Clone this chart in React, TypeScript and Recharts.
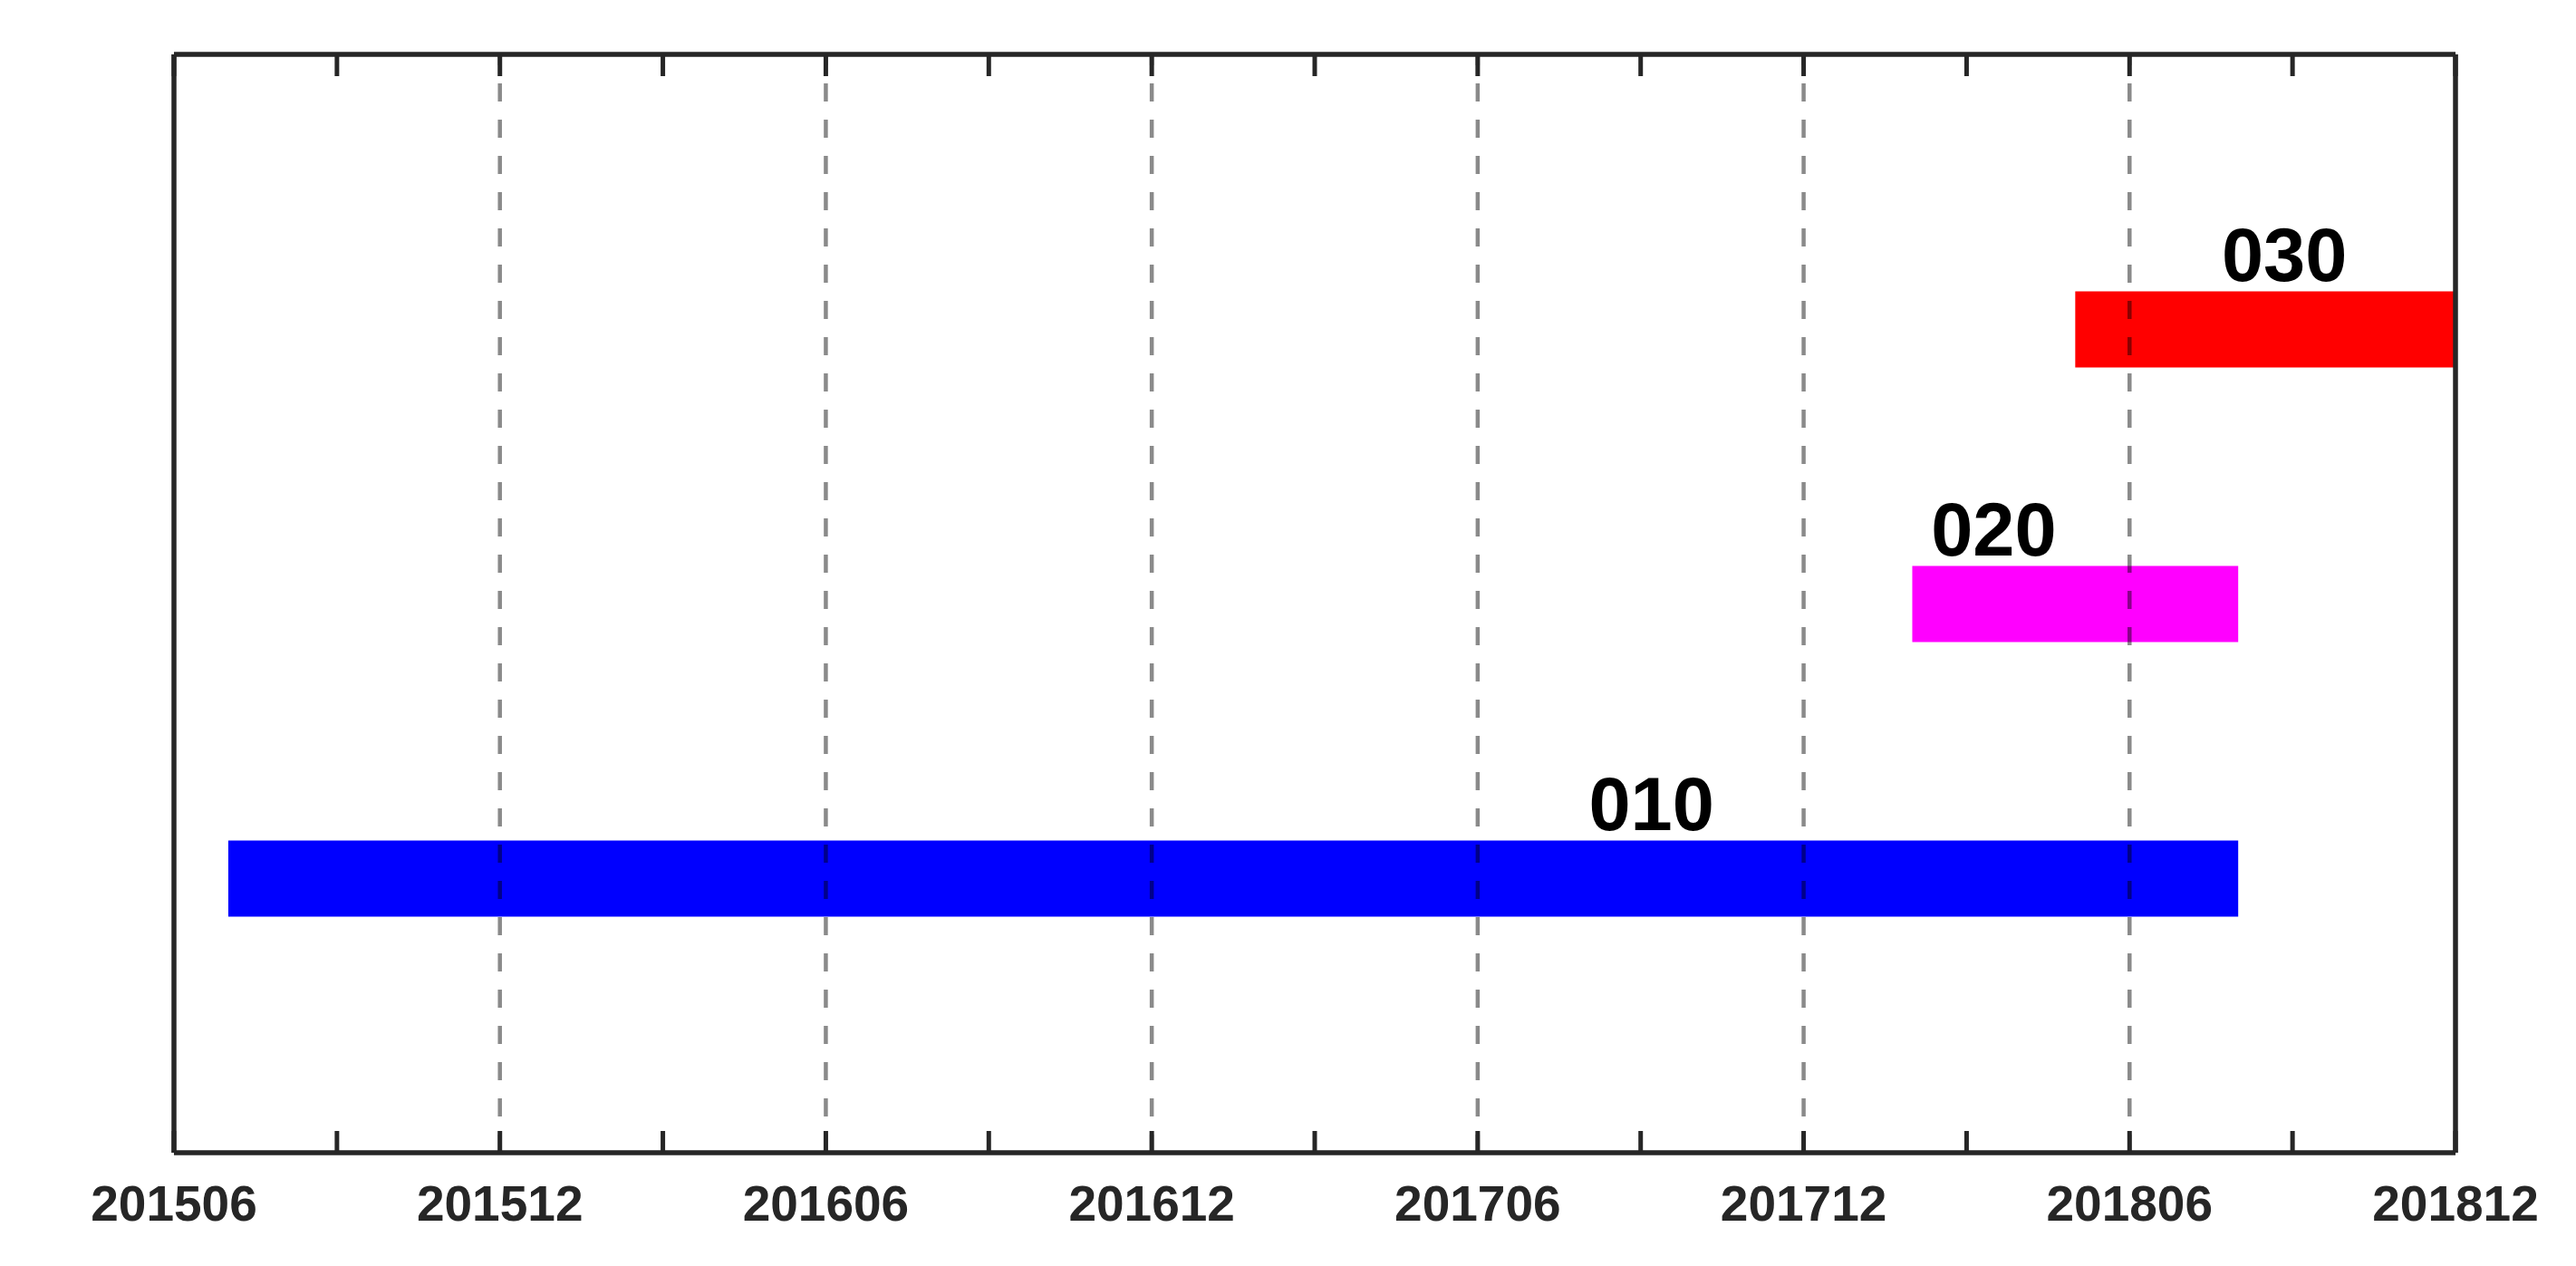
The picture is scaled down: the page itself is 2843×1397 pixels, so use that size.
import React from 'react';
import { ComposedChart, Bar, Cell, XAxis, YAxis, ReferenceLine, ReferenceDot } from 'recharts';

// ---- data ----
const categories = ['010', '020', '030'];
const rowPositions = [1, 2, 3];
const startMonths = [201507, 201802, 201805];
const endMonths = [201808, 201808, 201812];
const barColors = ['#0000FF', '#FF00FF', '#FF0000'];
// label centre, in months after the axis start (201506)
const labelMonths = [27.2, 33.5, 38.85];

const axisStart = 201506;
const majorTickMonths = [0, 6, 12, 18, 24, 30, 36, 42];
const majorTickLabels = ['201506', '201512', '201606', '201612', '201706', '201712', '201806', '201812'];
const minorTickMonths = [3, 9, 15, 21, 27, 33, 39];
const gridMonths = [6, 12, 18, 24, 30, 36];

const toIndex = (yyyymm: number) => {
  const y = Math.floor(yyyymm / 100);
  const m = yyyymm % 100;
  const y0 = Math.floor(axisStart / 100);
  const m0 = axisStart % 100;
  return (y - y0) * 12 + (m - m0);
};

const allTicks = [...majorTickMonths, ...minorTickMonths].sort((a, b) => a - b);

const data = categories.map((c, i) => ({
  name: c,
  y: rowPositions[i],
  range: [toIndex(startMonths[i]), toIndex(endMonths[i])],
}));

const AXIS_COLOR = '#262626';
const FONT = "'Liberation Sans', Arial, Helvetica, sans-serif";

const BottomTick = (props: any) => {
  const { x, y, payload } = props;
  const idx = majorTickMonths.indexOf(payload.value);
  return (
    <g>
      <line x1={x} y1={y} x2={x} y2={y - 24} stroke={AXIS_COLOR} strokeWidth={5} />
      {idx >= 0 && (
        <text
          x={x}
          y={y + 75}
          textAnchor="middle"
          fill={AXIS_COLOR}
          fontSize={55}
          fontWeight="bold"
          fontFamily={FONT}
        >
          {majorTickLabels[idx]}
        </text>
      )}
    </g>
  );
};

const TopTick = (props: any) => {
  const { x, y } = props;
  return <line x1={x} y1={y} x2={x} y2={y + 24} stroke={AXIS_COLOR} strokeWidth={5} />;
};

export default function App() {
  return (
    <div style={{ position: 'absolute', left: 0, top: 0, width: 2843, height: 1397, background: '#fff' }}>
      <ComposedChart
        width={2843}
        height={1397}
        data={data}
        layout="vertical"
        margin={{ top: 59, right: 132, bottom: 124, left: 191 }}
      >
        <Bar dataKey="range" barSize={84} isAnimationActive={false}>
          {data.map((d, i) => (
            <Cell key={d.name} fill={barColors[i]} />
          ))}
        </Bar>
        {gridMonths.map((m) => (
          <ReferenceLine
            key={m}
            x={m}
            stroke="#000"
            strokeOpacity={0.46}
            strokeWidth={4.5}
            strokeDasharray="20 20"
          />
        ))}
        <XAxis
          type="number"
          domain={[0, 42]}
          ticks={allTicks}
          interval={0}
          height={1}
          tickSize={0}
          tickMargin={0}
          tickLine={false}
          axisLine={{ stroke: AXIS_COLOR, strokeWidth: 5.5 }}
          tick={<BottomTick />}
          allowDataOverflow
        />
        <XAxis
          xAxisId="top"
          orientation="top"
          type="number"
          domain={[0, 42]}
          ticks={allTicks}
          interval={0}
          height={1}
          tickSize={0}
          tickMargin={0}
          tickLine={false}
          axisLine={{ stroke: AXIS_COLOR, strokeWidth: 5.5 }}
          tick={<TopTick />}
          allowDataOverflow
        />
        <YAxis
          type="number"
          dataKey="y"
          domain={[0, 4]}
          reversed
          width={1}
          tick={false}
          tickLine={false}
          axisLine={{ stroke: AXIS_COLOR, strokeWidth: 5.5 }}
          allowDataOverflow
        />
        <YAxis
          yAxisId="right"
          orientation="right"
          type="number"
          domain={[0, 4]}
          width={1}
          tick={false}
          tickLine={false}
          axisLine={{ stroke: AXIS_COLOR, strokeWidth: 5.5 }}
          allowDataOverflow
        />
        {categories.map((c, i) => (
          <ReferenceDot
            key={c}
            x={labelMonths[i]}
            y={rowPositions[i]}
            r={0}
            fill="none"
            stroke="none"
            label={{
              value: c,
              position: 'top',
              offset: 53,
              fill: '#000',
              fontSize: 83,
              fontWeight: 'bold',
              fontFamily: FONT,
            }}
          />
        ))}
      </ComposedChart>
    </div>
  );
}
